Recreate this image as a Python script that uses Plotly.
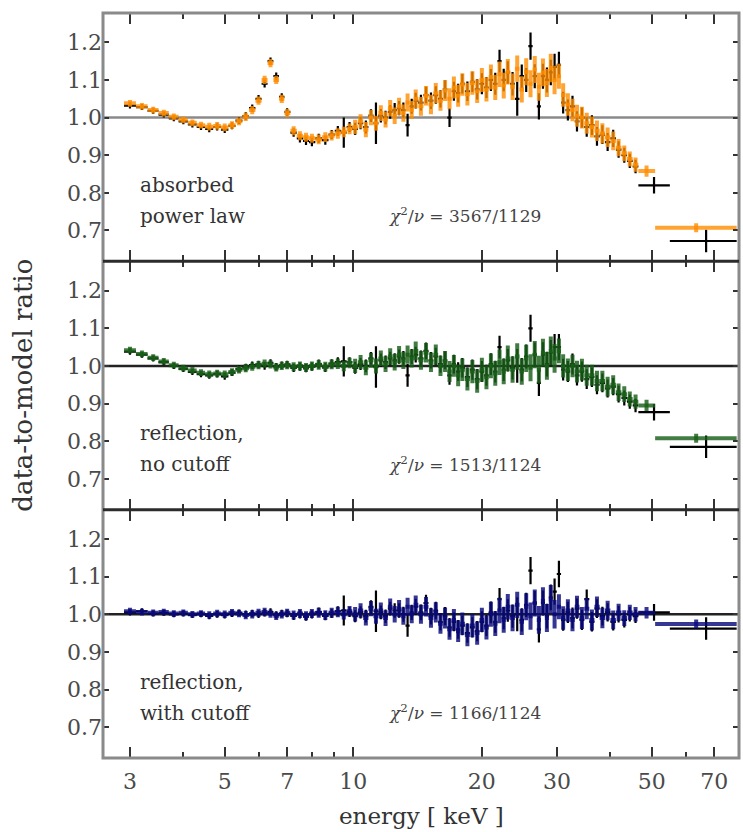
import numpy as np
import plotly.graph_objects as go
from plotly.subplots import make_subplots

# ---------------- data ----------------
# shared energy bin centres (keV)
E_LOW = [3.0, 3.2, 3.4, 3.6, 3.8, 4.0, 4.2, 4.4, 4.6, 4.8,
         5.0, 5.2, 5.4, 5.6, 5.8, 6.0, 6.2, 6.4, 6.6, 6.8,
         7.0, 7.25, 7.5, 7.75, 8.0, 8.3, 8.6, 8.9, 9.2, 9.5,
         9.8]
E_MID = [10.1, 10.4, 10.7, 11.0, 11.3, 11.6, 11.9, 12.2, 12.5, 12.8,
         13.1, 13.4, 13.7, 14.0, 14.4, 14.8, 15.2, 15.6, 16.0, 16.4,
         16.8, 17.2, 17.6, 18.0, 18.5, 19.0, 19.5, 20.0, 20.5, 21.0,
         21.5, 22.0, 22.5, 23.0, 23.6, 24.2, 24.8, 25.4, 26.0, 26.6,
         27.2, 27.8, 28.4, 29.0, 29.6]
E_HIGH = [30.3, 31.0, 31.8, 32.6, 33.4, 34.3, 35.2, 36.2, 37.2, 38.3,
          39.4, 40.6, 41.8, 43.1, 44.4, 45.8]

# wide high-energy bins (differ between the two detectors)
TAIL_A_CENTERS = [48.6, 63.5]
TAIL_A_EDGES = [46.5, 50.9, 79.0]
TAIL_B_CENTERS = [50.6, 67.0]
TAIL_B_EDGES = [46.5, 55.1, 79.0]

# 1-sigma errors on the ratio (module A = coloured, module B = black)
ERR_A = [0.009, 0.009, 0.009, 0.009, 0.009, 0.009, 0.009, 0.009, 0.010, 0.010,
         0.010, 0.010, 0.010, 0.011, 0.011, 0.011, 0.011, 0.011, 0.011, 0.011,
         0.011, 0.012, 0.012, 0.012, 0.012, 0.013, 0.013, 0.013, 0.014, 0.014,
         0.014,
         0.019, 0.019, 0.020, 0.020, 0.020, 0.021, 0.021, 0.022, 0.022, 0.023,
         0.023, 0.024, 0.024, 0.025, 0.025, 0.026, 0.026, 0.027, 0.027, 0.028,
         0.028, 0.029, 0.029, 0.030, 0.030, 0.031, 0.031, 0.032, 0.032, 0.033,
         0.033, 0.034, 0.034, 0.034, 0.035, 0.035, 0.035, 0.036, 0.036, 0.036,
         0.037, 0.037, 0.037, 0.038, 0.038,
         0.033, 0.031, 0.030, 0.030, 0.029, 0.029, 0.028, 0.028, 0.027, 0.027,
         0.026, 0.025, 0.023, 0.021, 0.020, 0.019,
         0.015, 0.012]
ERR_B = [0.008, 0.008, 0.008, 0.008, 0.008, 0.008, 0.008, 0.008, 0.009, 0.009,
         0.009, 0.009, 0.009, 0.010, 0.010, 0.010, 0.010, 0.010, 0.010, 0.010,
         0.010, 0.011, 0.011, 0.011, 0.011, 0.012, 0.012, 0.012, 0.013, 0.040,
         0.013,
         0.016, 0.016, 0.017, 0.017, 0.055, 0.018, 0.018, 0.018, 0.019, 0.019,
         0.020, 0.030, 0.020, 0.021, 0.021, 0.022, 0.022, 0.023, 0.023, 0.024,
         0.025, 0.025, 0.025, 0.026, 0.026, 0.027, 0.027, 0.028, 0.028, 0.029,
         0.029, 0.030, 0.030, 0.030, 0.031, 0.045, 0.031, 0.032, 0.036, 0.032,
         0.035, 0.033, 0.033, 0.034, 0.035,
         0.035, 0.029, 0.028, 0.028, 0.027, 0.027, 0.026, 0.026, 0.025, 0.025,
         0.024, 0.023, 0.022, 0.020, 0.019, 0.018,
         0.022, 0.030]

# panel 1: absorbed power law
P1_A = [1.038, 1.030, 1.020, 1.012, 1.002, 0.994, 0.986, 0.980, 0.976, 0.978,
        0.974, 0.980, 0.990, 1.002, 1.020, 1.045, 1.100, 1.145, 1.100, 1.050,
        1.012, 0.965, 0.952, 0.948, 0.945, 0.942, 0.948, 0.952, 0.958, 0.962,
        0.970,
        0.975, 0.990, 0.968, 1.000, 0.985, 1.012, 0.995, 1.025, 1.005, 1.030,
        1.012, 1.040, 1.020, 1.050, 1.030, 1.058, 1.035, 1.065, 1.045, 1.072,
        1.050, 1.080, 1.058, 1.088, 1.062, 1.092, 1.070, 1.100, 1.075, 1.108,
        1.080, 1.115, 1.085, 1.122, 1.082, 1.130, 1.075, 1.122, 1.090, 1.128,
        1.082, 1.120, 1.092, 1.132, 1.100,
        1.110, 1.060, 1.035, 1.020, 1.005, 1.000, 0.985, 0.975, 0.965, 0.958,
        0.948, 0.938, 0.920, 0.905, 0.890, 0.875,
        0.858, 0.707]
P1_B = [1.032, 1.028, 1.018, 1.008, 0.998, 0.990, 0.982, 0.975, 0.970, 0.975,
        0.968, 0.978, 0.992, 1.004, 1.025, 1.050, 1.090, 1.150, 1.110, 1.055,
        1.015, 0.960, 0.945, 0.938, 0.935, 0.945, 0.940, 0.955, 0.965, 0.960,
        0.975,
        0.970, 0.985, 0.975, 1.005, 0.985, 1.005, 1.000, 1.015, 1.020, 1.025,
        1.020, 0.980, 1.030, 1.045, 1.040, 1.060, 1.045, 1.060, 1.050, 1.075,
        1.000, 1.070, 1.065, 1.090, 1.070, 1.095, 1.075, 1.090, 1.080, 1.100,
        1.090, 1.150, 1.100, 1.120, 1.090, 1.050, 1.110, 1.100, 1.190, 1.110,
        1.030, 1.110, 1.100, 1.120, 1.135,
        1.140, 1.040, 1.020, 1.030, 0.990, 1.000, 0.975, 0.980, 0.950, 0.955,
        0.935, 0.945, 0.915, 0.900, 0.885, 0.870,
        0.820, 0.672]

# panel 2: reflection, no cutoff
P2_A = [1.042, 1.032, 1.022, 1.012, 1.002, 0.994, 0.988, 0.982, 0.978, 0.980,
        0.978, 0.984, 0.990, 0.994, 0.998, 1.002, 1.006, 1.004, 0.996, 1.000,
        1.002, 0.998, 1.000, 0.996, 1.000, 1.003, 0.998, 1.004, 1.006, 1.000,
        1.008,
        1.000, 1.010, 0.995, 1.015, 1.000, 1.020, 1.005, 1.025, 1.010, 1.030,
        1.015, 1.030, 1.020, 1.040, 1.015, 1.035, 1.010, 1.030, 1.000, 1.012,
        0.985, 1.000, 0.975, 0.990, 0.965, 0.985, 0.960, 0.990, 0.970, 1.000,
        0.980, 1.010, 0.985, 1.020, 0.990, 1.025, 0.985, 1.020, 0.995, 1.030,
        0.990, 1.035, 1.000, 1.040, 1.020,
        1.040, 1.000, 0.990, 1.000, 0.985, 0.990, 0.975, 0.975, 0.960, 0.960,
        0.945, 0.950, 0.930, 0.925, 0.912, 0.905,
        0.895, 0.808]
P2_B = [1.038, 1.030, 1.020, 1.010, 1.000, 0.992, 0.984, 0.978, 0.975, 0.978,
        0.972, 0.982, 0.992, 0.996, 1.002, 1.004, 1.000, 1.008, 0.998, 1.002,
        1.004, 0.995, 0.998, 0.994, 0.998, 1.005, 0.996, 1.006, 1.010, 1.012,
        1.010,
        0.995, 1.005, 1.000, 1.020, 0.997, 1.015, 1.010, 1.020, 1.015, 1.025,
        1.020, 0.975, 1.025, 1.030, 1.020, 1.040, 1.015, 1.025, 1.005, 1.015,
        0.975, 1.005, 0.985, 0.995, 0.970, 0.990, 0.965, 0.985, 0.975, 1.005,
        0.985, 1.050, 0.990, 1.015, 0.995, 1.000, 0.990, 1.025, 1.100, 1.030,
        0.955, 1.030, 1.005, 1.035, 1.050,
        1.050, 0.990, 0.985, 1.005, 0.975, 0.985, 0.965, 0.970, 0.950, 0.955,
        0.940, 0.945, 0.925, 0.915, 0.905, 0.895,
        0.877, 0.785]

# panel 3: reflection, with cutoff
P3_A = [1.008, 1.006, 1.004, 1.006, 1.002, 1.004, 1.000, 1.002, 0.998, 1.002,
        1.000, 1.004, 1.002, 0.998, 1.000, 1.004, 1.006, 1.002, 0.996, 1.000,
        1.004, 0.998, 1.002, 0.996, 1.002, 1.004, 0.998, 1.004, 1.006, 1.000,
        1.008,
        1.000, 1.010, 0.990, 1.015, 0.995, 1.010, 0.990, 1.020, 1.000, 1.015,
        0.995, 1.020, 1.000, 1.025, 1.000, 1.020, 0.990, 1.005, 0.975, 0.990,
        0.960, 0.985, 0.955, 0.975, 0.945, 0.970, 0.950, 0.985, 0.965, 1.000,
        0.975, 1.010, 0.985, 1.020, 0.990, 1.025, 0.980, 1.020, 0.995, 1.030,
        0.985, 1.035, 0.990, 1.040, 1.000,
        1.020, 0.990, 1.010, 0.985, 1.020, 0.990, 1.015, 0.985, 1.020, 0.990,
        1.010, 0.985, 1.005, 0.990, 1.005, 1.000,
        1.004, 0.974]
P3_B = [1.005, 1.008, 1.002, 1.004, 1.000, 1.002, 0.998, 1.000, 0.996, 1.000,
        0.998, 1.002, 1.004, 1.000, 1.002, 1.000, 1.004, 1.006, 0.998, 1.002,
        1.002, 0.996, 1.000, 0.994, 1.000, 1.006, 0.996, 1.002, 1.008, 1.010,
        1.006,
        0.995, 1.005, 0.995, 1.020, 1.008, 1.005, 0.995, 1.015, 1.010, 1.010,
        1.000, 0.970, 1.005, 1.020, 1.005, 1.030, 0.995, 1.010, 0.980, 0.995,
        0.965, 0.980, 0.960, 0.970, 0.950, 0.965, 0.955, 0.980, 0.970, 1.005,
        0.980, 1.040, 0.990, 1.010, 0.995, 1.000, 0.985, 1.025, 1.116, 1.030,
        0.960, 1.030, 0.995, 1.045, 1.060,
        1.107, 0.985, 1.005, 0.990, 1.015, 0.985, 1.040, 0.980, 1.015, 0.995,
        1.005, 0.980, 1.000, 0.985, 1.000, 0.995,
        1.005, 0.962]

PANEL_LABELS = [["absorbed", "power law"],
                ["reflection,", "no cutoff"],
                ["reflection,", "with cutoff"]]
CHI_LABELS = ["3567/1129", "1513/1124", "1166/1124"]
X_TICKS = [3, 5, 7, 10, 20, 30, 50, 70]
X_MINOR = [4, 6, 8, 9, 40, 60, 80]
Y_TICKS = [0.7, 0.8, 0.9, 1.0, 1.1, 1.2]

# ---------------- helpers ----------------
SHARED = E_LOW + E_MID + E_HIGH


def build_bins(tail_centers, tail_edges):
    c = np.asarray(SHARED, dtype=float)
    mids = np.sqrt(c[:-1] * c[1:])
    lo = np.concatenate([[c[0] ** 2 / mids[0]], mids, tail_edges[:-1]])
    hi = np.concatenate([mids, [tail_edges[0]], tail_edges[1:]])
    x = np.concatenate([c, tail_centers])
    return x, x - lo, hi - x


XA, XA_M, XA_P = build_bins(TAIL_A_CENTERS, TAIL_A_EDGES)
XB, XB_M, XB_P = build_bins(TAIL_B_CENTERS, TAIL_B_EDGES)

COLORS = ["rgba(255,140,0,0.8)", "rgba(25,95,25,0.82)", "rgba(10,10,125,0.82)"]
BLACK = "rgba(0,0,0,1)"
PANELS = [(P1_A, P1_B), (P2_A, P2_B), (P3_A, P3_B)]

fig = make_subplots(rows=3, cols=1, shared_xaxes=True, vertical_spacing=0)


def add_series(x, xm, xp, y, err, color, thick, row):
    fig.add_trace(go.Scatter(
        x=x, y=y, mode="markers",
        marker=dict(size=2, color=color, opacity=0),
        error_x=dict(type="data", symmetric=False, array=xp, arrayminus=xm,
                     color=color, thickness=thick, width=0),
        error_y=dict(type="data", array=err, color=color,
                     thickness=thick, width=0),
        hoverinfo="skip", showlegend=False), row=row, col=1)


for i, (ya, yb) in enumerate(PANELS):
    r = i + 1
    add_series(XB, XB_M, XB_P, yb, ERR_B, BLACK, 2.2, r)
    add_series(XA, XA_M, XA_P, ya, ERR_A, COLORS[i], 4, r)

FONT = "DejaVu Serif"
for r in (1, 2, 3):
    fig.update_yaxes(row=r, col=1, range=[0.618, 1.278],
                     tickvals=Y_TICKS, ticktext=[f"{v:.1f}" for v in Y_TICKS],
                     ticks="inside", ticklen=6, tickwidth=2, tickcolor="#333",
                     mirror="ticks", showline=False, showgrid=False,
                     zeroline=False,
                     tickfont=dict(family=FONT, size=22, color="#4a4a4a"))
    fig.update_xaxes(row=r, col=1, type="log",
                     range=[np.log10(2.594), np.log10(80.0)],
                     tickvals=X_TICKS, ticktext=[str(v) for v in X_TICKS],
                     ticks="inside", ticklen=11, tickwidth=2, tickcolor="#333",
                     minor=dict(tickvals=X_MINOR, ticks="inside", ticklen=6,
                                tickwidth=2, tickcolor="#333"),
                     mirror="ticks", showline=False, showgrid=False,
                     zeroline=False, showticklabels=(r == 3),
                     tickfont=dict(family=FONT, size=22, color="#4a4a4a"))
fig.update_xaxes(row=3, col=1, ticklabelstandoff=8)

shapes = []
unity_colors = ["#8a8a8a", "#222222", "#222222"]
for i in range(3):
    s = "" if i == 0 else str(i + 1)
    shapes.append(dict(type="line", xref=f"x{s} domain", yref=f"y{s}",
                       x0=0, x1=1, y0=1.0, y1=1.0, layer="below",
                       line=dict(color=unity_colors[i], width=2.5)))
shapes.append(dict(type="rect", xref="paper", yref="paper", x0=0, x1=1,
                   y0=0, y1=1, line=dict(color="#8a8a8a", width=3)))
for yp in (1 / 3, 2 / 3):
    shapes.append(dict(type="line", xref="paper", yref="paper", x0=0, x1=1,
                       y0=yp, y1=yp, line=dict(color="#2b2b2b", width=3)))

annotations = []
for i in range(3):
    s = "" if i == 0 else str(i + 1)
    for j, txt in enumerate(PANEL_LABELS[i]):
        annotations.append(dict(text=txt, xref=f"x{s} domain", yref=f"y{s} domain",
                                x=0.055, y=0.307 - 0.125 * j, xanchor="left",
                                yanchor="middle", showarrow=False,
                                font=dict(family=FONT, size=20, color="#333")))
    annotations.append(dict(text=f"<i>χ</i><sup>2</sup>/<i>ν</i> = {CHI_LABELS[i]}",
                            xref=f"x{s} domain", yref=f"y{s} domain",
                            x=0.569, y=0.185, xanchor="center", yanchor="middle",
                            showarrow=False,
                            font=dict(family=FONT, size=17, color="#444")))
annotations.append(dict(text="data-to-model ratio", xref="paper", yref="paper",
                        x=-0.127, y=0.5, textangle=-90, showarrow=False,
                        xanchor="center", yanchor="middle",
                        font=dict(family=FONT, size=26, color="#333")))
annotations.append(dict(text="energy [ keV ]", xref="paper", yref="paper",
                        x=0.5, y=-0.0785, showarrow=False,
                        xanchor="center", yanchor="middle",
                        font=dict(family=FONT, size=23, color="#333")))

fig.update_layout(width=743, height=832,
                  margin=dict(l=103, r=4, t=13, b=74),
                  paper_bgcolor="white", plot_bgcolor="white",
                  showlegend=False, shapes=shapes, annotations=annotations,
                  font=dict(family=FONT, color="#444"))

fig.write_html("out.html")
